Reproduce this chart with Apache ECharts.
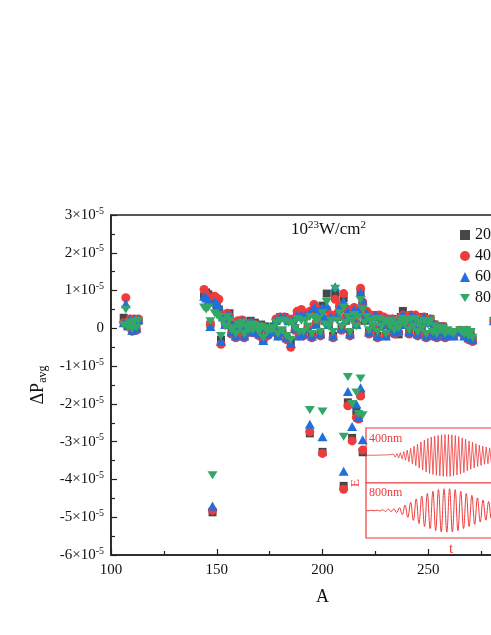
<!DOCTYPE html>
<html>
<head>
<meta charset="utf-8">
<script src="https://cdn.jsdelivr.net/npm/echarts@6/dist/echarts.min.js"></script>
<style>
  html, body { margin: 0; padding: 0; background: #fff; }
  #chart { width: 491px; height: 635px; }
</style>
</head>
<body>
<div id="chart"></div>
<script>
// values are in units of 1e-5
const legendNames = ['200nm', '400nm', '600nm', '800nm'];
const yTicks = [-6, -5, -4, -3, -2, -1, 0, 1, 2, 3];

// light group
const lightA = [106, 107, 108, 109, 110, 111, 112, 113, 144, 145, 146, 147];
const light200 = [0.28, 0.2, 0.05, 0.2, -0.05, 0.2, 0.0, 0.2, 0.85, 0.95, 0.9, 0.1];
const light400 = [0.15, 0.81, 0.1, 0.25, -0.08, 0.25, -0.05, 0.25, 1.03, 0.9, 0.8, 0.1];
const light600 = [0.15, 0.65, 0.08, 0.25, -0.05, 0.25, 0.0, 0.25, 0.85, 0.8, 0.75, 0.05];
const light800 = [0.08, 0.5, 0.02, 0.15, -0.02, 0.18, 0.02, 0.2, 0.55, 0.5, 0.55, 0.19];

// main band
const bandA = [
  149, 150, 151, 152, 153, 154, 155, 156, 157, 158,
  159, 160, 161, 162, 163, 164, 165, 166, 167, 168,
  169, 170, 171, 172, 173, 174, 175, 176, 177, 178,
  179, 180, 181, 182, 183, 184, 185, 186, 187, 188,
  189, 190, 191, 192, 193, 194, 195, 196, 197, 198,
  199, 200, 201, 202, 203, 204, 205, 206, 207, 208,
  209, 210, 211, 212, 213, 214, 215, 216, 217, 218,
  219, 220, 221, 222, 223, 224, 225, 226, 227, 228,
  229, 230, 231, 232, 233, 234, 235, 236, 237, 238,
  239, 240, 241, 242, 243, 244, 245, 246, 247, 248,
  249, 250, 251, 252, 253, 254, 255, 256, 257, 258,
  259, 260, 261, 262, 265, 266, 267, 268, 269, 270, 271, 281
];
const band200 = [
  0.7, 0.6, 0.5, -0.3, 0.3, 0.1, 0.35, 0.4, -0.1, 0.1,
  -0.2, 0.15, 0.0, 0.2, -0.2, 0.1, -0.05, 0.2, -0.1, 0.15,
  0.0, -0.15, 0.1, -0.3, 0.05, -0.15, 0.0, -0.1, 0.05, 0.2,
  -0.2, 0.3, -0.1, 0.3, -0.25, 0.2, -0.35, 0.2, 0.0, 0.35,
  -0.2, 0.3, -0.15, 0.35, 0.0, 0.4, -0.2, 0.5, 0.1, 0.4,
  -0.15, 0.6, 0.2, 0.92, 0.1, 0.3, -0.2, 0.9, 0.3, 0.5,
  0.0, 0.8, 0.2, 0.4, -0.15, 0.3, 0.5, 0.1, 0.4, 0.95,
  0.6, 0.2, 0.4, -0.1, 0.3, 0.05, 0.35, -0.2, 0.3, 0.1,
  0.25, -0.2, 0.2, 0.0, 0.25, -0.1, 0.1, -0.16, 0.3, 0.46,
  0.1, 0.25, -0.1, 0.35, 0.1, 0.3, -0.15, 0.2, 0.0, 0.3,
  -0.2, 0.15, 0.25, -0.15, 0.1, -0.2, 0.05, -0.1, 0.05, -0.2,
  -0.1, -0.15, -0.1, -0.2, -0.05, -0.1, -0.2, -0.05, -0.25, -0.1, -0.3, 0.2
];
const band400 = [
  0.85, 0.8, 0.77, -0.42, 0.35, 0.15, 0.4, 0.3, -0.15, 0.05,
  -0.25, 0.2, -0.05, 0.22, -0.25, 0.12, -0.1, 0.15, -0.12, 0.1,
  -0.05, -0.2, 0.05, -0.3, 0.0, -0.2, 0.0, -0.1, 0.0, 0.25,
  -0.2, 0.3, -0.1, 0.3, -0.3, 0.25, -0.5, 0.25, -0.05, 0.45,
  -0.2, 0.5, -0.2, 0.4, 0.0, 0.45, -0.25, 0.63, 0.15, 0.5,
  -0.2, 0.5, 0.25, 0.5, 0.15, 0.35, -0.25, 0.77, 0.4, 0.6,
  -0.05, 0.92, 0.3, 0.5, -0.2, 0.35, 0.55, 0.15, 0.5, 1.06,
  0.7, 0.3, 0.45, -0.15, 0.35, 0.0, 0.3, -0.25, 0.35, 0.05,
  0.3, -0.2, 0.25, -0.05, 0.25, -0.15, 0.15, -0.1, 0.3, 0.35,
  0.1, 0.3, -0.15, 0.35, 0.15, 0.35, -0.2, 0.25, -0.05, 0.3,
  -0.25, 0.2, 0.25, -0.2, 0.1, -0.25, 0.0, -0.15, 0.05, -0.25,
  -0.1, -0.2, -0.1, -0.2, -0.05, -0.1, -0.2, -0.05, -0.3, -0.15, -0.35, 0.2
];
const band600 = [
  0.7, 0.65, 0.6, -0.35, 0.3, 0.1, 0.35, 0.35, -0.1, 0.1,
  -0.2, 0.15, 0.0, 0.2, -0.2, 0.1, -0.05, 0.18, -0.1, 0.12,
  0.0, -0.15, 0.08, -0.32, 0.05, -0.15, 0.0, -0.1, 0.05, 0.22,
  -0.2, 0.3, -0.1, 0.3, -0.25, 0.2, -0.4, 0.2, 0.0, 0.35,
  -0.2, 0.35, -0.15, 0.35, 0.0, 0.4, -0.2, 0.55, 0.1, 0.45,
  -0.15, 0.55, 0.3, 0.6, 0.1, 0.3, -0.2, 1.1, 0.35, 0.55,
  0.0, 0.72, 0.25, 0.45, -0.15, 0.3, 0.5, 0.1, 0.45, 0.95,
  0.75, 0.25, 0.4, -0.1, 0.3, 0.05, 0.35, -0.2, 0.3, 0.1,
  0.25, -0.2, 0.2, 0.0, 0.25, -0.1, 0.1, -0.05, 0.3, 0.35,
  0.1, 0.25, -0.1, 0.35, 0.1, 0.3, -0.15, 0.2, 0.0, 0.3,
  -0.2, 0.15, 0.25, -0.15, 0.1, -0.2, 0.05, -0.1, 0.05, -0.2,
  -0.1, -0.15, -0.1, -0.2, -0.05, -0.1, -0.2, -0.05, -0.25, -0.1, -0.3, 0.2
];
const band800 = [
  0.4, 0.35, 0.3, -0.2, 0.2, 0.05, 0.3, 0.2, -0.05, 0.0,
  -0.15, 0.1, 0.0, 0.15, -0.15, 0.05, -0.05, 0.1, -0.05, 0.08,
  0.02, -0.1, 0.05, -0.25, 0.0, -0.1, 0.0, -0.05, 0.0, 0.15,
  -0.15, 0.2, -0.05, 0.2, -0.2, 0.15, -0.3, 0.15, 0.0, 0.25,
  -0.1, 0.2, -0.1, 0.2, 0.05, 0.3, -0.15, 0.3, 0.2, 0.25,
  -0.1, 0.4, 0.1, 0.7, 0.05, 0.2, -0.1, 1.05, 0.2, 0.4,
  0.05, 0.55, 0.15, 0.3, -0.1, 0.2, 0.35, 0.05, 0.3, 0.75,
  0.5, 0.15, 0.3, -0.05, 0.2, 0.05, 0.25, -0.1, 0.25, 0.05,
  0.2, -0.15, 0.15, 0.05, 0.2, -0.05, 0.1, 0.0, 0.2, 0.25,
  0.1, 0.2, -0.05, 0.25, 0.05, 0.25, -0.1, 0.15, 0.0, 0.2,
  -0.15, 0.1, 0.2, -0.1, 0.05, -0.15, 0.0, -0.05, 0.0, -0.15,
  -0.05, -0.1, -0.1, -0.15, -0.05, -0.1, -0.15, -0.05, -0.2, -0.1, -0.25, 0.18
];

// strongly negative points
const dropA = [148, 194, 200, 210, 212, 214, 216, 217, 218, 219];
const drop200 = [-4.87, -2.78, -3.27, -4.17, -1.96, -2.9, -2.19, -2.3, -1.75, -3.28];
const drop400 = [-4.82, -2.74, -3.31, -4.26, -2.05, -2.98, -2.36, -2.4, -1.79, -3.22];
const drop600 = [-4.70, -2.54, -2.87, -3.78, -1.67, -2.6, -2.0, -2.36, -1.57, -2.95];
const drop800 = [-3.89, -2.16, -2.2, -2.87, -1.29, -2.0, -1.7, -2.27, -1.33, -2.3];

// inset: peak amplitudes of each half cycle (sign alternates)
const env400 = [
  0.01, 0.01, 0.01, 0.01, 0.01, 0.01, 0.01, 0.01, 0.015, 0.015,
  0.02, 0.02, 0.02, 0.025, 0.03, 0.04, 0.05, 0.06, 0.07, 0.09,
  0.1, 0.12, 0.14, 0.17, 0.2, 0.23, 0.26, 0.3, 0.34, 0.37,
  0.41, 0.45, 0.49, 0.53, 0.56, 0.6, 0.62, 0.65, 0.67, 0.69,
  0.71, 0.72, 0.73, 0.74, 0.75, 0.76, 0.76, 0.76, 0.76, 0.76,
  0.75, 0.74, 0.73, 0.71, 0.69, 0.67, 0.64, 0.62, 0.59, 0.56,
  0.53, 0.5, 0.48, 0.45, 0.43, 0.4, 0.38, 0.36, 0.34, 0.32,
  0.31, 0.3, 0.28, 0.26, 0.25, 0.24, 0.22, 0.21, 0.2, 0.19,
  0.17, 0.16, 0.15, 0.14, 0.13, 0.12, 0.11, 0.1, 0.09, 0.08,
  0.07, 0.07, 0.06, 0.05, 0.05, 0.04, 0.04, 0.03, 0.03, 0.02
];
const env800 = [
  0.0, 0.01, 0.01, 0.01, 0.015, 0.02, 0.03, 0.04, 0.05, 0.04,
  0.06, 0.08, 0.1, 0.15, 0.2, 0.25, 0.3, 0.36, 0.42, 0.48,
  0.53, 0.58, 0.62, 0.66, 0.7, 0.73, 0.76, 0.78, 0.79, 0.79,
  0.79, 0.78, 0.76, 0.73, 0.7, 0.66, 0.62, 0.58, 0.55, 0.5,
  0.46, 0.42, 0.38, 0.35, 0.33, 0.3, 0.28, 0.26, 0.24, 0.22,
  0.2, 0.18, 0.16, 0.15, 0.13, 0.12, 0.1, 0.09, 0.08, 0.07,
  0.06, 0.05
];

const FONT = 'Liberation Serif';
const RED = '#ee3b3b';

function pairs(xs, ys) {
  return xs.map((x, i) => [x, ys[i]]);
}
function points(a, b, c) {
  return pairs(lightA, a).concat(pairs(bandA, b), pairs(dropA, c));
}
function wave(env) {
  return env.map((v, i) => (i % 2 === 0 ? v : -v));
}

const chart = echarts.init(document.getElementById('chart'));

const downTri = 'path://M0,0 L10,0 L5,8 Z';

const option = {
  animation: false,
  backgroundColor: '#fff',
  grid: [
    { left: 111, top: 215, width: 423, height: 340, outerBoundsMode: 'none', show: true, borderColor: '#222', borderWidth: 1.5 },
    { left: 366, top: 428, width: 170, height: 55, outerBoundsMode: 'none', show: true, borderColor: RED, borderWidth: 1.2, backgroundColor: '#fff' },
    { left: 366, top: 483, width: 170, height: 55, outerBoundsMode: 'none', show: true, borderColor: RED, borderWidth: 1.2, backgroundColor: '#fff' }
  ],
  legend: {
    data: legendNames,
    orient: 'vertical',
    left: 455,
    top: 222,
    itemWidth: 10,
    itemHeight: 10,
    itemGap: 5,
    textStyle: { fontFamily: FONT, fontSize: 16, color: '#111' }
  },
  xAxis: [{
    type: 'value',
    min: 100,
    max: 300,
    interval: 50,
    name: 'A',
    nameLocation: 'middle',
    nameGap: 33,
    nameTextStyle: { fontFamily: FONT, fontSize: 18, color: '#111' },
    axisLine: { onZero: false, lineStyle: { color: '#222', width: 1.5 } },
    axisTick: { inside: true, length: 6, lineStyle: { color: '#222', width: 1.2 } },
    minorTick: { show: true, splitNumber: 2, length: 4, lineStyle: { color: '#222', width: 1.2 } },
    axisLabel: { fontFamily: FONT, fontSize: 15, color: '#111', margin: 8 },
    splitLine: { show: false }
  }, {
    type: 'category', gridIndex: 1, boundaryGap: false,
    data: env400.map((v, i) => i), show: false
  }, {
    type: 'category', gridIndex: 2, boundaryGap: false,
    data: env800.map((v, i) => i),
    name: 't', nameLocation: 'middle', nameGap: 4,
    nameTextStyle: { fontFamily: FONT, fontSize: 15, color: RED },
    axisLine: { show: false }, axisTick: { show: false }, axisLabel: { show: false }
  }],
  yAxis: [{
    type: 'value',
    min: yTicks[0],
    max: yTicks[yTicks.length - 1],
    interval: 1,
    name: '{d|ΔP}{s|avg}',
    nameLocation: 'middle',
    nameRotate: 90,
    nameGap: 57,
    nameTextStyle: {
      rich: {
        d: { fontFamily: FONT, fontSize: 18, color: '#111', lineHeight: 22 },
        s: { fontFamily: FONT, fontSize: 12, color: '#111', lineHeight: 12, verticalAlign: 'bottom' }
      }
    },
    axisLine: { onZero: false, lineStyle: { color: '#222', width: 1.5 } },
    axisTick: { inside: true, length: 6, lineStyle: { color: '#222', width: 1.2 } },
    minorTick: { show: true, splitNumber: 2, length: 4, lineStyle: { color: '#222', width: 1.2 } },
    axisLabel: {
      margin: 7,
      formatter: v => (v === 0 ? '{n|0}' : '{n|' + v + '×10}{s|-5}'),
      rich: {
        n: { fontFamily: FONT, fontSize: 15, color: '#111', lineHeight: 18 },
        s: { fontFamily: FONT, fontSize: 10, color: '#111', lineHeight: 10, verticalAlign: 'top' }
      }
    },
    splitLine: { show: false }
  }, {
    type: 'value', gridIndex: 1, min: -1, max: 1, show: false
  }, {
    type: 'value', gridIndex: 2, min: -1, max: 1, show: false
  }],
  graphic: [{
    type: 'text', left: 291, top: 220,
    style: {
      text: '{n|10}{p|23}{n|W/cm}{p|2}',
      rich: {
        n: { fontFamily: FONT, fontSize: 17, fill: '#111', lineHeight: 20 },
        p: { fontFamily: FONT, fontSize: 11, fill: '#111', lineHeight: 11, verticalAlign: 'top' }
      }
    }
  }, {
    type: 'text', left: 369, top: 433,
    style: { text: '400nm', fontFamily: FONT, fontSize: 12, fill: RED }
  }, {
    type: 'text', left: 369, top: 487,
    style: { text: '800nm', fontFamily: FONT, fontSize: 12, fill: RED }
  }, {
    type: 'text', x: 349, y: 487, rotation: Math.PI / 2,
    style: { text: 'E', fontFamily: FONT, fontSize: 13, fill: RED }
  }],
  series: [{
    name: legendNames[0], type: 'scatter', symbol: 'rect', symbolSize: 8,
    itemStyle: { color: '#474747', opacity: 1 },
    data: points(light200, band200, drop200)
  }, {
    name: legendNames[1], type: 'scatter', symbol: 'circle', symbolSize: 9,
    itemStyle: { color: '#ee3b3b', opacity: 1 },
    data: points(light400, band400, drop400)
  }, {
    name: legendNames[2], type: 'scatter', symbol: 'triangle', symbolSize: [10, 9],
    itemStyle: { color: '#1f6fdc', opacity: 1 },
    data: points(light600, band600, drop600)
  }, {
    name: legendNames[3], type: 'scatter', symbol: downTri, symbolSize: [10, 8],
    itemStyle: { color: '#33a866', opacity: 1 },
    data: points(light800, band800, drop800)
  }, {
    type: 'line', xAxisIndex: 1, yAxisIndex: 1, showSymbol: false, silent: true,
    lineStyle: { color: RED, width: 0.8 },
    data: wave(env400)
  }, {
    type: 'line', xAxisIndex: 2, yAxisIndex: 2, showSymbol: false, silent: true, smooth: 0.4,
    lineStyle: { color: RED, width: 1 },
    data: wave(env800)
  }]
};

chart.setOption(option);
</script>
</body>
</html>
